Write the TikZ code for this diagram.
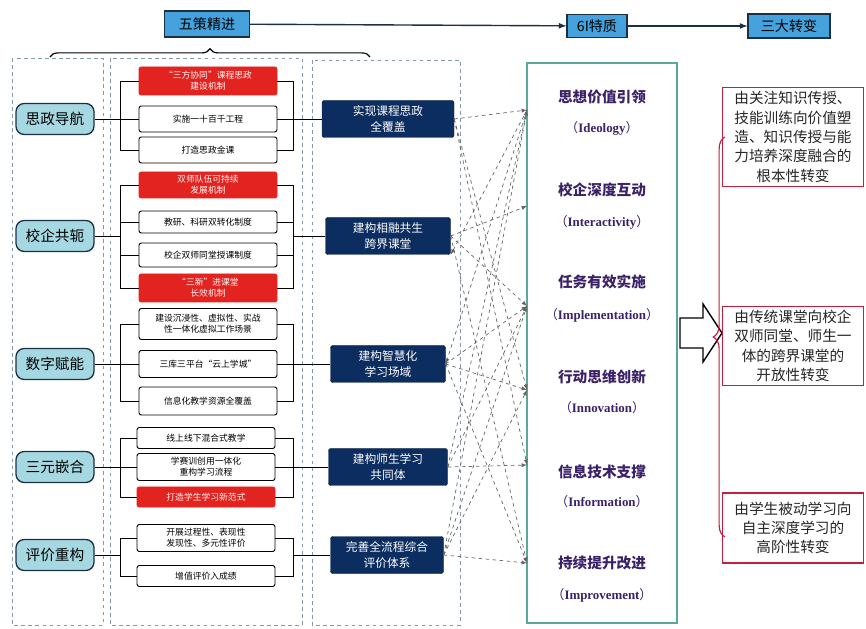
\documentclass[tikz,border=0pt]{standalone}
\usepackage{fontspec}
\setmainfont{Noto Sans CJK SC}
\newfontfamily\enserif{Liberation Serif}
\usetikzlibrary{decorations.pathreplacing}

\definecolor{topblue}{HTML}{45A2DD}
\definecolor{darkline}{HTML}{1B2F45}
\definecolor{tealfill}{HTML}{A6D8E2}
\definecolor{hotred}{HTML}{E2231F}
\definecolor{navy}{HTML}{0C2D60}
\definecolor{greenline}{HTML}{5AA897}
\definecolor{purpletext}{HTML}{3A2168}
\definecolor{crimson}{HTML}{C41E3A}
\definecolor{zonegray}{HTML}{7F9CA8}

\def\px{0.03cm}
\newcommand{\eng}[1]{（{\enserif\bfseries #1}）}

\begin{document}
\begin{tikzpicture}[x=0.03cm,y=-0.03cm,
	topbox/.style={draw=darkline,fill=topblue,line width=0.9pt,inner sep=1pt,
		font=\fontsize{12}{14}\selectfont},
	leftnode/.style={draw=darkline,fill=tealfill,line width=1.1pt,rounded corners=7pt,
		minimum width=78*\px,minimum height=31*\px,font=\fontsize{12.5}{14}\selectfont},
	wbox/.style={draw=black,fill=white,line width=0.8pt,rounded corners=2pt,
		minimum width=138*\px,minimum height=26*\px,inner sep=1pt,align=center,
		font=\fontsize{7.5}{9.5}\selectfont},
	rbox/.style={wbox,draw=hotred,fill=hotred,text=white!90!pink},
	bluenode/.style={draw=navy!70!black,fill=navy,text=white,rounded corners=2pt,
		minimum height=37*\px,inner sep=1pt,align=center,font=\fontsize{10}{13}\selectfont},
	zone/.style={draw=zonegray,dashed,line width=0.8pt},
	feat/.style={text=purpletext,font=\fontsize{12.5}{14}\selectfont\bfseries},
	featen/.style={text=purpletext,font=\fontsize{11}{13}\selectfont},
	change/.style={draw=crimson,line width=1pt,fill=white,minimum width=141*\px,
		align=center,text=black!85,font=\fontsize{12.5}{16.5}\selectfont},
	link/.style={draw=gray!80!black,dashed,line width=0.6pt,-latex},
	tree/.style={draw=black,line width=0.8pt}
	]
	\useasboundingbox (0,0) rectangle (866,629);

	% headline
	\node[topbox,minimum width=85*\px,minimum height=26*\px] (top1) at (207,24) {五策精进};
	\node[topbox,minimum width=60*\px,minimum height=23*\px] (top2) at (597,26) {6I特质};
	\node[topbox,minimum width=82*\px,minimum height=24*\px] (top3) at (789,26) {三大转变};
	\draw[line width=1.2pt,darkline,-latex] (top1) -- (top2);
	\draw[line width=1.2pt,darkline,-latex] (top2) -- (top3);
	\draw[line width=1pt,decorate,decoration={brace,amplitude=7pt}] (50,57) -- (370,57);

	% dashed columns
	\draw[zone] (12,58) rectangle (103,625);
	\draw[zone] (110,58) rectangle (302,625);
	\draw[zone] (312,60) rectangle (460,625);

	% five strategies
	\node[leftnode] (l1) at (55,119) {思政导航};
	\node[leftnode] (l2) at (55,236) {校企共轭};
	\node[leftnode] (l3) at (55,364) {数字赋能};
	\node[leftnode] (l4) at (55,467) {三元嵌合};
	\node[leftnode] (l5) at (55,555) {评价重构};

	% measures
	\node[rbox,minimum height=28*\px] (m1a) at (208,81) {“三方协同”课程思政\\建设机制};
	\node[wbox] (m1b) at (208,119) {实施一十百千工程};
	\node[wbox] (m1c) at (208,150) {打造思政金课};

	\node[rbox] (m2a) at (208,185) {双师队伍可持续\\发展机制};
	\node[wbox,minimum height=22*\px] (m2b) at (208,222) {教研、科研双转化制度};
	\node[wbox,minimum height=24*\px] (m2c) at (208,255) {校企双师同堂授课制度};
	\node[rbox,minimum height=28*\px] (m2d) at (208,288) {“三新”进课堂\\长效机制};

	\node[wbox,minimum height=31*\px] (m3a) at (208,324) {建设沉浸性、虚拟性、实战\\性一体化虚拟工作场景};
	\node[wbox,minimum height=27*\px] (m3b) at (208,364) {三库三平台“云上学城”};
	\node[wbox,minimum height=28*\px] (m3c) at (208,401) {信息化教学资源全覆盖};

	\node[wbox,minimum height=21*\px] (m4a) at (206,438) {线上线下混合式教学};
	\node[wbox,minimum height=27*\px] (m4b) at (206,467) {学赛训创用一体化\\重构学习流程};
	\node[rbox,minimum height=20*\px] (m4c) at (206,497) {打造学生学习新范式};

	\node[wbox,minimum height=27*\px] (m5a) at (206,538) {开展过程性、表现性\\发现性、多元性评价};
	\node[wbox,minimum height=21*\px] (m5b) at (206,576) {增值评价入成绩};

	% results
	\node[bluenode,minimum width=132*\px] (b1) at (388,119) {实现课程思政\\全覆盖};
	\node[bluenode,minimum width=125*\px] (b2) at (388,236) {建构相融共生\\跨界课堂};
	\node[bluenode,minimum width=115*\px] (b3) at (388,364) {建构智慧化\\学习场域};
	\node[bluenode,minimum width=119*\px] (b4) at (388,467) {建构师生学习\\共同体};
	\node[bluenode,minimum width=113*\px] (b5) at (387,555) {完善全流程综合\\评价体系};

	% tree brackets
	\coordinate (xl) at (120,0);
	\coordinate (xr) at (293,0);
	\foreach \g/\first/\last/\mids in {1/m1a/m1c/m1b,2/m2a/m2d/{m2b,m2c},3/m3a/m3c/m3b,
		4/m4a/m4c/m4b,5/m5a/m5b/{}} {
		\draw[tree] (\first.west) -| (xl |- \last.west) -- (\last.west);
		\draw[tree] (\first.east) -| (xr |- \last.east) -- (\last.east);
		\foreach \m in \mids {
			\draw[tree] (xl |- \m.west) -- (\m.west);
			\draw[tree] (\m.east) -- (xr |- \m.east);
		}
		\draw[tree] (l\g.east) -- (xl |- l\g.east);
		\draw[tree] (xr |- b\g.west) -- (b\g.west);
	}

	% 6I box
	\node[draw=greenline,line width=0.9pt,minimum width=150*\px,minimum height=560*\px] (g) at (602,343) {};
	\node[feat] (f1) at (602,97) {思想价值引领};
	\node[featen] (e1) at (602,128) {\eng{Ideology}};
	\node[feat] (f2) at (602,190) {校企深度互动};
	\node[featen] (e2) at (602,222) {\eng{Interactivity}};
	\node[feat] (f3) at (602,282) {任务有效实施};
	\node[featen] (e3) at (602,315) {\eng{Implementation}};
	\node[feat] (f4) at (602,377) {行动思维创新};
	\node[featen] (e4) at (602,408) {\eng{Innovation}};
	\node[feat] (f5) at (602,472) {信息技术支撑};
	\node[featen] (e5) at (602,502) {\eng{Information}};
	\node[feat] (f6) at (602,563) {持续提升改进};
	\node[featen] (e6) at (602,595) {\eng{Improvement}};

	\coordinate (t1) at (527,110);
	\coordinate (t2) at (527,206);
	\coordinate (t3) at (527,306);
	\coordinate (t4) at (527,390);
	\coordinate (t5) at (527,465);
	\coordinate (t6) at (527,563);

	% dashed links
	\foreach \s/\t in {b1/t1,b1/t4,b1/t5,b2/t2,b2/t3,b2/t6,b3/t3,b3/t4,b3/t6,
		b4/t5,b4/t3,b4/t1,b5/t6,b5/t1,b5/t3,b5/t4}
		\draw[link] (\s.east) -- (\t);
	\draw[link] (t1) -- (b2.south east);
	\draw[link] (t1) -- (b3.east);

	% hollow arrow
	\draw[line width=1.2pt,fill=white] (680,318) -- (703,318) -- (703,304) -- (722,333)
		-- (703,362) -- (703,348) -- (680,348) -- cycle;

	% three changes
	\node[change,minimum height=96*\px] (c1) at (793,137) {由关注知识传授、\\技能训练向价值塑\\造、知识传授与能\\力培养深度融合的\\根本性转变};
	\node[change,minimum height=78*\px] (c2) at (793,346) {由传统课堂向校企\\双师同堂、师生一\\体的跨界课堂的\\开放性转变};
	\node[change,minimum height=70*\px] (c3) at (793,528) {由学生被动学习向\\自主深度学习的\\高阶性转变};
	\coordinate (bt) at (725,137);
	\coordinate (bb) at (725,537);
	\draw[crimson,line width=1pt,decorate,decoration={brace,amplitude=10pt}] (bb) -- (bt);
\end{tikzpicture}
\end{document}
